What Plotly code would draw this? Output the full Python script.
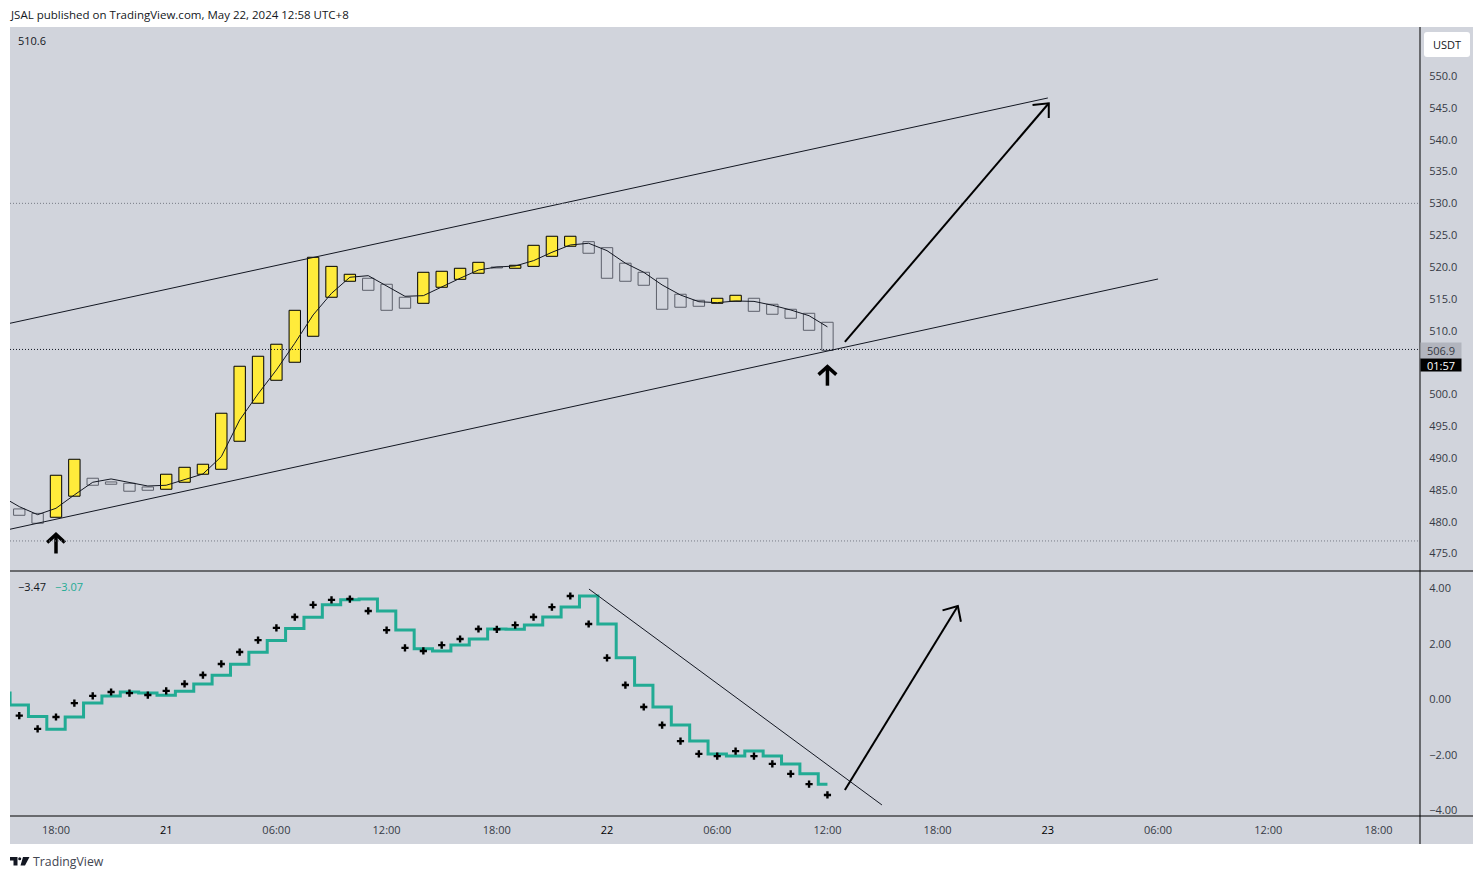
import pandas as pd
import plotly.graph_objects as go
from plotly.subplots import make_subplots

# candles, hourly from 2024-05-20 16:00
bar_times = pd.date_range("2024-05-20 16:00", periods=45, freq="h")
opens = [482.0, 481.3, 480.69, 484.0, 486.82, 486.24, 486.03, 485.45, 485.09, 486.19, 487.45, 488.23,
         492.63, 498.6, 502.21, 505.04, 509.12, 515.25, 517.76, 518.23, 517.29, 515.25, 514.3, 516.82,
         518.07, 519.02, 520.0, 519.8, 520.1, 521.68, 523.26, 523.98, 523.04, 520.6, 519.17, 518.23,
         515.72, 514.77, 514.3, 514.62, 515.09, 514.15, 513.36, 512.73, 511.32]
closes = [481.0, 479.75, 487.29, 489.8, 485.72, 485.88, 484.78, 484.93, 487.45, 488.54, 489.02, 497.03,
          504.41, 505.98, 507.87, 513.2, 521.53, 520.1, 518.86, 516.34, 513.2, 513.52, 519.17, 519.33,
          519.8, 520.74, 519.85, 520.27, 523.41, 524.83, 524.83, 522.16, 518.23, 517.76, 517.13, 513.36,
          513.68, 513.83, 515.09, 515.56, 513.04, 512.58, 511.95, 510.06, 506.9]

# these two start one bar earlier, the first point sits off the left edge
line_times = pd.date_range("2024-05-20 15:00", periods=46, freq="h")
ma_values = [484.03, 482.36, 481.1, 482.1, 484.2, 486.19, 486.71, 486.19, 485.6, 485.72, 486.55, 487.49,
             490.21, 495.97, 500.06, 503.83, 508.02, 512.47, 515.87, 518.39, 518.64, 517.07, 515.4, 515.5,
             516.9, 518.23, 519.53, 520.0, 520.16, 521.0, 522.31, 523.46, 523.73, 522.57, 520.6, 519.17,
             517.18, 515.6, 514.55, 514.4, 514.66, 514.6, 514.0, 513.25, 512.35, 510.6]
signal_values = [0.23, -0.2, -0.61, -1.07, -0.63, -0.13, 0.13, 0.27, 0.23, 0.15, 0.3, 0.56, 0.87, 1.27,
                 1.7, 2.13, 2.56, 2.96, 3.41, 3.59, 3.62, 3.19, 2.5, 1.83, 1.75, 1.96, 2.18, 2.54, 2.53,
                 2.68, 2.97, 3.33, 3.73, 2.72, 1.5, 0.51, -0.27, -0.92, -1.5, -1.96, -2.04, -1.86, -2.04,
                 -2.32, -2.68, -3.05]
cross_values = [-0.58, -1.06, -0.63, -0.13, 0.13, 0.27, 0.23, 0.16, 0.31, 0.56, 0.88, 1.28, 1.71, 2.14,
                2.58, 2.97, 3.41, 3.59, 3.62, 3.19, 2.5, 1.86, 1.75, 1.96, 2.18, 2.54, 2.53, 2.68, 2.97,
                3.33, 3.73, 2.72, 1.5, 0.52, -0.27, -0.92, -1.5, -1.96, -2.04, -1.86, -2.04, -2.32,
                -2.68, -3.05, -3.44]

price_ticks = [475, 480, 485, 490, 495, 500, 510, 515, 520, 525, 530, 535, 540, 545, 550]
osc_ticks = [-4, -2, 0, 2, 4]
time_ticks = ["2024-05-20 18:00", "2024-05-21 00:00", "2024-05-21 06:00", "2024-05-21 12:00",
              "2024-05-21 18:00", "2024-05-22 00:00", "2024-05-22 06:00", "2024-05-22 12:00",
              "2024-05-22 18:00", "2024-05-23 00:00", "2024-05-23 06:00", "2024-05-23 12:00",
              "2024-05-23 18:00"]
day_style = "<span style='color:#000000'>%s</span>"
time_labels = ["18:00", day_style % "21", "06:00", "12:00", "18:00", day_style % "22", "06:00", "12:00", "18:00",
               day_style % "23", "06:00", "12:00", "18:00"]

x_range = ["2024-05-20 15:29:46", "2024-05-23 20:15:40"]

# drawings: (time, value) pairs
upper_channel = (["2024-05-20 15:29:46", "2024-05-23 00:00"], [511.16, 546.55])
lower_channel = (["2024-05-20 15:29:46", "2024-05-23 06:00"], [478.81, 518.12])
osc_trend = (["2024-05-21 23:01", "2024-05-22 14:58"], [3.98, -3.80])
h_levels = [(530.0, "#787b86"), (507.05, "#131722"), (476.97, "#787b86")]

# arrows: shaft then head, None breaks the line
big_arrow_t = ["2024-05-22 12:57", "2024-05-23 00:03", None, "2024-05-22 23:10", "2024-05-23 00:03", "2024-05-23 00:03"]
big_arrow_v = [508.23, 545.72, None, 545.45, 545.72, 543.41]
osc_arrow_t = ["2024-05-22 12:57", "2024-05-22 19:06", None, "2024-05-22 18:16", "2024-05-22 19:06", "2024-05-22 19:16"]
osc_arrow_v = [-3.26, 3.37, None, 3.21, 3.37, 2.80]
up_arrow1_t = ["2024-05-20 18:00", "2024-05-20 18:00", None, "2024-05-20 17:31", "2024-05-20 18:00", "2024-05-20 18:29"]
up_arrow1_v = [475.0, 478.0, None, 476.73, 478.0, 476.73]
up_arrow2_t = ["2024-05-22 12:00", "2024-05-22 12:00", None, "2024-05-22 11:31", "2024-05-22 12:00", "2024-05-22 12:29"]
up_arrow2_v = [501.36, 504.34, None, 503.09, 504.34, 503.09]

FONT = "Open Sans"
TEXT = "#131722"
TICK = "#363a45"
BG = "#d1d4dc"
GREEN = "#22ab94"


def px(x):
    return (x - 10) / 1410


def py(y):
    return (816 - y) / 789


def text(x, y, s, color=TEXT, size=11, anchor="left", **kw):
    shift = 2 if anchor == "left" else 0
    fig.add_annotation(xref="paper", yref="paper", x=px(x - shift), y=py(y), text=s, showarrow=False,
                       xanchor=anchor, yanchor="middle", font=dict(family=FONT, size=size, color=color), **kw)


def rule(x0, y0, x1, y1, color="#000000", width=1):
    fig.add_shape(type="line", xref="paper", yref="paper", x0=px(x0), y0=py(y0), x1=px(x1), y1=py(y1),
                  line=dict(color=color, width=width))


def draw_line(xs, ys, row, color="#131722", width=1):
    fig.add_trace(go.Scatter(x=xs, y=ys, mode="lines", line=dict(color=color, width=width)), row=row, col=1)


fig = make_subplots(rows=2, cols=1, shared_xaxes=True, vertical_spacing=0, row_heights=[544, 245])

fill_colors = ["#ffeb3b" if c >= o else "rgba(0,0,0,0)" for o, c in zip(opens, closes)]
edge_colors = ["#000000" if c >= o else "#5d606b" for o, c in zip(opens, closes)]
fig.add_trace(go.Bar(x=bar_times, y=[c - o for o, c in zip(opens, closes)], base=opens,
                     width=2230000, marker=dict(color=fill_colors, line=dict(color=edge_colors, width=1))),
              row=1, col=1)
draw_line(line_times, ma_values, 1)
draw_line(upper_channel[0], upper_channel[1], 1)
draw_line(lower_channel[0], lower_channel[1], 1)
draw_line(big_arrow_t, big_arrow_v, 1, "#000000", 2)
draw_line(up_arrow1_t, up_arrow1_v, 1, "#000000", 3.5)
draw_line(up_arrow2_t, up_arrow2_v, 1, "#000000", 3.5)

fig.add_trace(go.Scatter(x=line_times, y=signal_values, mode="lines",
                         line=dict(color=GREEN, width=3, shape="hvh")), row=2, col=1)
fig.add_trace(go.Scatter(x=bar_times, y=cross_values, mode="markers",
                         marker=dict(symbol="cross", size=6, color="#000000", line=dict(width=0))), row=2, col=1)
draw_line(osc_trend[0], osc_trend[1], 2)
draw_line(osc_arrow_t, osc_arrow_v, 2, "#000000", 2)

for level, color in h_levels:
    fig.add_shape(type="line", xref="x domain", yref="y", x0=0, x1=1, y0=level, y1=level,
                  line=dict(color=color, width=1, dash="1px 2px"))

# panel background and frame
fig.add_shape(type="rect", xref="paper", yref="paper", x0=px(10), x1=px(1473), y0=py(844), y1=py(27),
              fillcolor=BG, line=dict(width=0), layer="below")
rule(10, 571, 1473, 571)
rule(10, 816, 1473, 816)
rule(1420, 27, 1420, 844)

# USDT button
x0, x1, y0, y1 = 1424, 1470, 57, 32
r = 3
fig.add_shape(type="path", xref="paper", yref="paper", fillcolor="#ffffff", line=dict(width=0),
              path=f"M {px(x0 + r)} {py(y1)} L {px(x1 - r)} {py(y1)} Q {px(x1)} {py(y1)} {px(x1)} {py(y1 + r)} "
                   f"L {px(x1)} {py(y0 - r)} Q {px(x1)} {py(y0)} {px(x1 - r)} {py(y0)} "
                   f"L {px(x0 + r)} {py(y0)} Q {px(x0)} {py(y0)} {px(x0)} {py(y0 - r)} "
                   f"L {px(x0)} {py(y1 + r)} Q {px(x0)} {py(y1)} {px(x0 + r)} {py(y1)} Z")
text(1447, 44.5, "USDT", anchor="center")

text(10, 14, "JSAL published on TradingView.com, May 22, 2024 12:58 UTC+8", size=11.5)
text(18, 40.5, "510.6")
text(18, 586.5, "−3.47")
text(55, 586.5, "−3.07", color=GREEN)

text(1441, 350.7, "506.9", color=TICK, anchor="center", bgcolor="#b2b5be", width=40, height=15, borderpad=0)
text(1441, 365.2, "01:57", color="#ffffff", anchor="center", bgcolor="#000000", width=40, height=12, borderpad=0)

# TradingView logo
fig.add_shape(type="path", xref="paper", yref="paper", line=dict(width=0), fillcolor=TEXT,
              path=f"M {px(10)} {py(857)} L {px(17.5)} {py(857)} L {px(17.5)} {py(865.5)} L {px(13.5)} {py(865.5)} "
                   f"L {px(13.5)} {py(860.5)} L {px(10)} {py(860.5)} Z "
                   f"M {px(23)} {py(857)} L {px(29.5)} {py(857)} L {px(25)} {py(865.5)} L {px(20.5)} {py(865.5)} Z")
fig.add_shape(type="circle", xref="paper", yref="paper", x0=px(18.2), x1=px(21.2), y0=py(860.2), y1=py(857.2),
              fillcolor=TEXT, line=dict(width=0))
text(33, 861, "TradingView", color="#434651", size=12.3)

fig.update_layout(
    width=1484,
    height=879,
    margin=dict(l=10, r=64, t=27, b=63),
    paper_bgcolor="#ffffff",
    plot_bgcolor=BG,
    showlegend=False,
    hovermode=False,
    font=dict(family=FONT, size=11, color=TICK),
)
fig.update_xaxes(range=x_range, type="date", showgrid=False, zeroline=False, showline=False)
fig.update_xaxes(tickmode="array", tickvals=time_ticks, ticktext=time_labels, ticks="outside", ticklen=4,
                 tickcolor="rgba(0,0,0,0)", row=2, col=1)
fig.update_yaxes(side="right", showgrid=False, zeroline=False, showline=False, ticks="outside", ticklen=6,
                 tickcolor="rgba(0,0,0,0)")
fig.update_yaxes(range=[472.25, 557.7], tickmode="array", tickvals=price_ticks, tickformat=".1f", row=1, col=1)
fig.update_yaxes(range=[-4.198, 4.63], tickmode="array", tickvals=osc_ticks, tickformat=".2f", row=2, col=1)

fig.write_html("out.html", config=dict(displayModeBar=False), post_script="document.body.style.margin='0';")
